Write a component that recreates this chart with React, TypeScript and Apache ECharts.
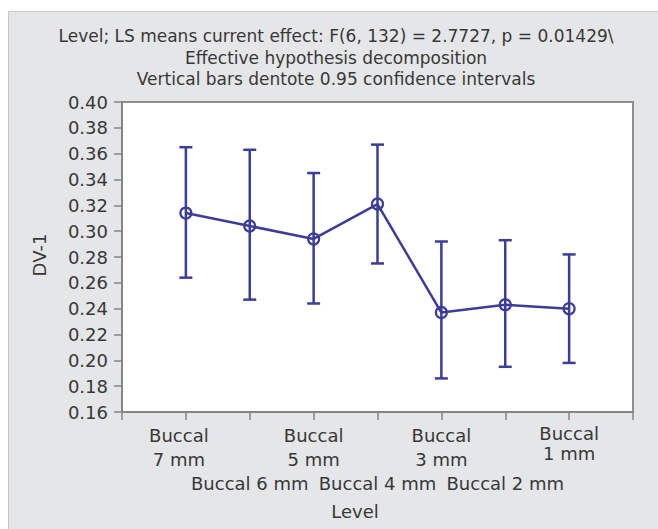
import React, { useEffect, useRef } from "react";
import * as echarts from "echarts";

const categories = [
  "Buccal 7 mm",
  "Buccal 6 mm",
  "Buccal 5 mm",
  "Buccal 4 mm",
  "Buccal 3 mm",
  "Buccal 2 mm",
  "Buccal 1 mm",
];
const means = [0.314, 0.304, 0.294, 0.321, 0.237, 0.243, 0.24];
const upper = [0.365, 0.363, 0.345, 0.367, 0.292, 0.293, 0.282];
const lower = [0.264, 0.247, 0.244, 0.275, 0.186, 0.195, 0.198];
const titleLines = [
  "Level; LS means current effect: F(6, 132) = 2.7727, p = 0.01429\\",
  "Effective hypothesis decomposition",
  "Vertical bars dentote 0.95 confidence intervals",
];
const xName = "Level";
const yName = "DV-1";
const yMin = 0.16;
const yMax = 0.4;
const yStep = 0.02;

const FONT = "DejaVu Sans";
const TXT = "#383838";
const BLUE = "#3c3c9a";
const AXIS = "#858585";

export default function App() {
  const ref = useRef<HTMLDivElement>(null);
  useEffect(() => {
    document.body.style.margin = "0";
    if (!ref.current) return;
    const chart = echarts.init(ref.current, undefined, { renderer: "svg" });
    const meanData = means.map((m, i) => [i + 1, m]);
    const errData = means.map((_, i) => [i + 1, lower[i], upper[i]]);
    const base = { fontFamily: FONT, fontSize: 18, color: TXT };
    chart.setOption({
      animation: false,
      backgroundColor: "#ffffff",
      graphic: [
        {
          type: "rect",
          z: -50,
          shape: { x: 8.5, y: 11.5, width: 660, height: 530 },
          style: { fill: "#e5e6e8", stroke: "#c6c7c9", lineWidth: 1 },
        },
        ...titleLines.map((t, i) => ({
          type: "text",
          x: 336,
          y: 36 + i * 21.5,
          z: 10,
          style: {
            text: t,
            align: "center",
            verticalAlign: "middle",
            font: `17px "${FONT}"`,
            fill: TXT,
          },
        })),
        {
          type: "text",
          x: 355,
          y: 511,
          z: 10,
          style: {
            text: xName,
            align: "center",
            verticalAlign: "middle",
            font: `18px "${FONT}"`,
            fill: TXT,
          },
        },
        {
          type: "text",
          x: 39.5,
          y: 255,
          rotation: Math.PI / 2,
          z: 10,
          style: {
            text: yName,
            align: "center",
            verticalAlign: "middle",
            font: `18px "${FONT}"`,
            fill: TXT,
          },
        },
      ],
      grid: {
        left: 122,
        right: 25,
        top: 102,
        bottom: 117,
        show: true,
        backgroundColor: "#ffffff",
        borderColor: "#8e8e8e",
        borderWidth: 2,
      },
      xAxis: {
        type: "value",
        min: 0,
        max: categories.length + 1,
        interval: 1,
        splitLine: { show: false },
        axisLine: { show: true, lineStyle: { color: AXIS, width: 2 } },
        axisTick: { show: true, length: 8, lineStyle: { color: AXIS, width: 1.5 } },
        axisLabel: {
          ...base,
          margin: 11,
          lineHeight: 24,
          hideOverlap: false,
          showMinLabel: true,
          showMaxLabel: true,
          verticalAlign: "top",
          formatter: (v: number) => {
            const i = Math.round(v) - 1;
            if (i < 0 || i >= categories.length) return "";
            const name = categories[i];
            const k = name.indexOf(" ");
            const a = name.slice(0, k);
            const b = name.slice(k + 1);
            if (i % 2 === 1) return `\n\n${name}`;
            if (i === 0) return `{s|${a}}\n{s|${b}}`;
            if (i === categories.length - 1) return `{u|${a}}\n{u|${b}}`;
            return `${a}\n${b}`;
          },
          rich: {
            s: { ...base, lineHeight: 24, padding: [0, 14, 0, 0] },
            u: { ...base, lineHeight: 20 },
          },
        },
      },
      yAxis: {
        type: "value",
        min: yMin,
        max: yMax,
        interval: yStep,
        splitLine: { show: false },
        axisLine: { show: true, lineStyle: { color: AXIS, width: 2 } },
        axisTick: { show: true, length: 8, lineStyle: { color: AXIS, width: 1.5 } },
        axisLabel: {
          ...base,
          margin: 14,
          formatter: (v: number) => v.toFixed(2),
        },
      },
      series: [
        {
          type: "custom",
          z: 2,
          data: errData,
          renderItem: (_params: any, api: any) => {
            const x = api.value(0);
            const lo = api.coord([x, api.value(1)]);
            const hi = api.coord([x, api.value(2)]);
            const hw = 6.5;
            const st = { stroke: BLUE, lineWidth: 2.5 };
            return {
              type: "group",
              children: [
                { type: "line", shape: { x1: lo[0], y1: lo[1], x2: hi[0], y2: hi[1] }, style: st },
                { type: "line", shape: { x1: hi[0] - hw, y1: hi[1], x2: hi[0] + hw, y2: hi[1] }, style: st },
                { type: "line", shape: { x1: lo[0] - hw, y1: lo[1], x2: lo[0] + hw, y2: lo[1] }, style: st },
              ],
            };
          },
        },
        {
          type: "line",
          z: 3,
          data: meanData,
          symbol: "circle",
          symbolSize: 11,
          lineStyle: { color: BLUE, width: 2.5 },
          itemStyle: { color: "rgba(255,255,255,0)", borderColor: BLUE, borderWidth: 2.2 },
        },
      ],
    });
    return () => chart.dispose();
  }, []);
  return <div ref={ref} style={{ width: 658, height: 529 }} />;
}
